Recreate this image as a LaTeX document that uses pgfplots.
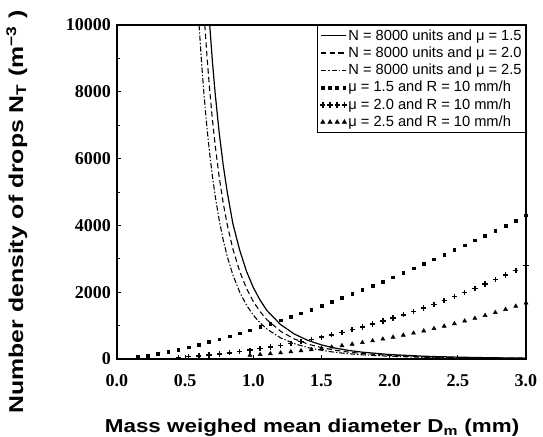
\documentclass[border=0pt]{standalone}
\usepackage{fontspec}
\setmainfont{Liberation Serif}
\newfontfamily\lsans{Liberation Sans}
\usepackage{graphicx}
\usepackage{pgfplots}
\pgfplotsset{compat=1.18}
\pgfplotsset{
  lineleg/.style={legend image code/.code={\draw[##1] (0cm,0cm) -- (0.67cm,0cm);}},
  markleg/.style={legend image code/.code={\draw[mark repeat=1,##1,only marks] plot coordinates {(0.05cm,0cm) (0.24cm,0cm) (0.43cm,0cm) (0.62cm,0cm)};}},
}
\begin{document}
\begin{tikzpicture}
\path[use as bounding box] (-87.75pt,-57.75pt) rectangle (319.5pt,269.25pt);
\begin{axis}[
  scale only axis, width=306.75pt, height=250.5pt,
  xmin=0, xmax=3, ymin=0, ymax=10000,
  xtick={0,0.5,1,1.5,2,2.5,3}, ytick={0,2000,4000,6000,8000,10000},
  minor y tick num=1,
  scaled y ticks=false, scaled x ticks=false,
  tick align=inside, tick pos=left,
  major tick length=3pt, minor tick length=2pt,
  axis line style={line width=0.8pt},
  tick style={line width=0.5pt, black},
  /pgf/number format/assume math mode=true,
  /pgf/number format/1000 sep={},
  ticklabel style={font=\bfseries\fontsize{13.5}{15}\selectfont},
  yticklabel style={xshift=-1pt},
  xticklabel style={yshift=-8pt, /pgf/number format/.cd, fixed, fixed zerofill, precision=1},
  xlabel={\scalebox{1.2}[1]{Mass weighed mean diameter D\textsubscript{m} (mm)}},
  ylabel={\scalebox{1.24}[1]{Number density of drops N\textsubscript{T} (m\textsuperscript{−3} )}},
  xlabel style={font=\lsans\bfseries\fontsize{14}{16}\selectfont, at={(axis description cs:0.477,-0.205)}, anchor=center},
  ylabel style={font=\lsans\bfseries\fontsize{15}{17}\selectfont, at={(axis description cs:-0.245,0.44)}, anchor=center},
  legend style={at={(1,1)}, anchor=north east, draw=black, line width=0.6pt,
    font=\lsans\fontsize{11}{13}\selectfont, inner sep=2pt, row sep=1.5pt,
    nodes={inner sep=1pt}, cells={anchor=west}},
  legend cell align=left,
]
\addplot[black, line width=0.9pt, lineleg]
coordinates {(0.68,10000) (0.70,8905) (0.72,7956) (0.75,6758) (0.78,5777) (0.81,4967) (0.85,4050) (0.90,3259) (0.95,2625) (1.00,2138) (1.05,1759) (1.10,1450) (1.20,1031) (1.30,749) (1.40,557) (1.50,422) (1.60,326) (1.70,256) (1.80,204) (2.00,134) (2.25,83) (2.50,55) (2.75,37) (3.00,26)};
\addlegendentry{N = 8000 units and μ = 1.5}
\addplot[black, line width=0.8pt, dash pattern=on 4pt off 2.5pt, lineleg]
coordinates {(0.644,10000) (0.66,9066) (0.68,8045) (0.70,7164) (0.72,6400) (0.75,5437) (0.78,4647) (0.81,3996) (0.85,3295) (0.90,2622) (0.95,2112) (1.00,1720) (1.05,1415) (1.10,1175) (1.20,830) (1.30,602) (1.40,448) (1.50,340) (1.60,262) (1.70,206) (1.80,164) (2.00,108) (2.25,67) (2.50,44) (2.75,30) (3.00,21)};
\addlegendentry{N = 8000 units and μ = 2.0}
\addplot[black, line width=0.8pt, dash pattern=on 4pt off 1.5pt on 1pt off 1.5pt, lineleg]
coordinates {(0.602,10000) (0.62,8889) (0.64,7828) (0.66,6921) (0.68,6143) (0.70,5470) (0.72,4887) (0.75,4151) (0.78,3548) (0.81,3051) (0.85,2516) (0.90,2002) (0.95,1612) (1.00,1313) (1.05,1080) (1.10,897) (1.20,633) (1.30,460) (1.40,342) (1.50,259) (1.60,200) (1.70,157) (1.80,125) (2.00,82) (2.25,51) (2.50,34) (2.75,23) (3.00,16)};
\addlegendentry{N = 8000 units and μ = 2.5}
\addplot[black, only marks, mark=square*, mark size=1.0pt, markleg]
coordinates {(0.150,59) (0.225,106) (0.300,160) (0.375,220) (0.450,285) (0.525,356) (0.600,430) (0.675,509) (0.750,592) (0.825,679) (0.900,769) (0.975,862) (1.050,958) (1.125,1058) (1.200,1160) (1.275,1265) (1.350,1373) (1.425,1483) (1.500,1596) (1.575,1711) (1.650,1829) (1.725,1949) (1.800,2071) (1.875,2196) (1.950,2322) (2.025,2451) (2.100,2582) (2.175,2715) (2.250,2850) (2.325,2986) (2.400,3125) (2.475,3266) (2.550,3408) (2.625,3552) (2.700,3698) (2.775,3846) (2.850,3996) (2.925,4147) (3.000,4300)};
\addlegendentry{μ = 1.5 and R = 10 mm/h}
\addplot[black, only marks, mark=+, mark size=2pt, mark options={line width=1.1pt}, markleg]
coordinates {(0.450,52) (0.525,72) (0.600,95) (0.675,122) (0.750,152) (0.825,186) (0.900,223) (0.975,264) (1.050,309) (1.125,357) (1.200,409) (1.275,464) (1.350,524) (1.425,587) (1.500,653) (1.575,724) (1.650,798) (1.725,876) (1.800,958) (1.875,1044) (1.950,1133) (2.025,1226) (2.100,1324) (2.175,1425) (2.250,1530) (2.325,1639) (2.400,1752) (2.475,1869) (2.550,1990) (2.625,2115) (2.700,2244) (2.775,2377) (2.850,2514) (2.925,2655) (3.000,2800)};
\addlegendentry{μ = 2.0 and R = 10 mm/h}
\addplot[black, only marks, mark=triangle*, mark size=1.7pt, markleg]
coordinates {(0.975,113) (1.050,135) (1.125,160) (1.200,186) (1.275,216) (1.350,247) (1.425,281) (1.500,318) (1.575,358) (1.650,400) (1.725,445) (1.800,493) (1.875,544) (1.950,597) (2.025,654) (2.100,714) (2.175,776) (2.250,842) (2.325,911) (2.400,983) (2.475,1059) (2.550,1138) (2.625,1219) (2.700,1305) (2.775,1393) (2.850,1485) (2.925,1581) (3.000,1680)};
\addlegendentry{μ = 2.5 and R = 10 mm/h}
\end{axis}
\end{tikzpicture}
\end{document}
